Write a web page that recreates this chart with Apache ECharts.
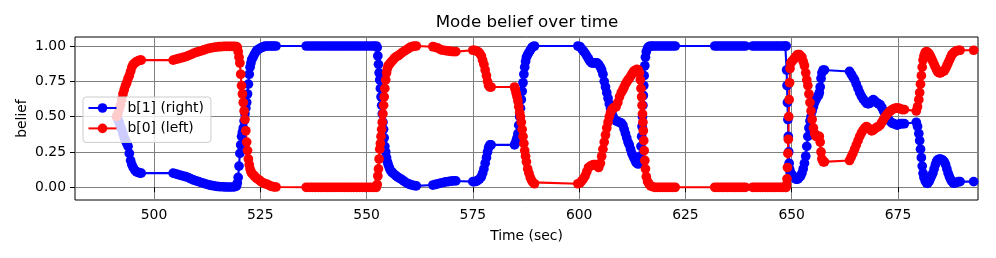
<!DOCTYPE html>
<html><head><meta charset="utf-8">
<script src="https://cdn.jsdelivr.net/npm/echarts@6/dist/echarts.min.js"></script>
<style>html,body{margin:0;padding:0;background:#fff}#c{width:996px;height:258px}</style>
</head><body><div id="c"></div>
<script>
// ---- data ----
const timeSec = [
  491.2, 491.5, 491.8, 492.1, 492.4, 492.7, 493.0, 493.3, 493.6, 493.9, 494.2, 494.5, 494.8, 495.1, 495.5, 495.9, 496.3, 496.7, 497.0,
  504.5, 505.1, 505.7, 506.3, 506.9, 507.5, 508.1, 508.7, 509.3, 509.9, 510.5, 511.1, 511.7, 512.3, 512.9, 513.5, 514.1, 514.7, 515.3, 515.9, 516.5, 517.1, 517.7, 518.3, 518.9, 519.4,
  519.6, 519.8, 520.0, 520.2, 520.4, 520.6, 520.8, 521.0, 521.2, 521.4, 521.6, 521.8, 522.0, 522.2, 522.4, 522.6, 522.8, 523.0, 523.3, 523.6, 523.9, 524.2, 524.6, 525.0, 525.4, 525.8, 526.2, 526.7, 527.2, 527.7, 528.2, 528.7,
  535.8, 536.5, 537.2, 537.9, 538.6, 539.3, 540.0, 540.7, 541.4, 542.1, 542.8, 543.5, 544.2, 544.9, 545.6, 546.3, 547.0, 547.7, 548.4, 549.1, 549.8, 550.5, 551.2, 551.8, 552.3,
  552.5, 552.65, 552.8, 552.95, 553.1, 553.25, 553.4, 553.55, 553.7, 553.85, 554.0, 554.15, 554.3, 554.5, 554.7, 554.9, 555.1, 555.35, 555.6, 555.9, 556.2, 556.6, 557.0, 557.4, 557.8, 558.2, 558.7, 559.2, 559.7, 560.2, 560.7, 561.2, 561.7,
  565.6, 566.2, 566.8, 567.4, 568.0, 568.6, 569.2, 569.8, 570.4, 571.0,
  575.0, 575.4, 575.8, 576.2, 576.6, 577.0, 577.3, 577.6, 577.9, 578.2, 578.45, 578.7, 579.0, 579.3,
  584.8, 585.0, 585.2, 585.4, 585.6, 585.8, 586.0, 586.2, 586.4, 586.6, 586.8, 587.0, 587.2, 587.4, 587.6, 587.9, 588.2, 588.5, 588.8, 589.1, 589.5,
  599.7, 600.2, 600.6, 601.0, 601.4, 601.8, 602.2, 602.6, 603.0, 603.4, 603.8, 604.2, 604.6, 605.0, 605.3, 605.6, 605.9, 606.2, 606.5, 606.8,
  607.1, 607.4, 607.7, 608.0, 608.3, 608.7, 609.1, 609.5, 609.9, 610.3, 610.6, 610.9, 611.2, 611.5, 611.8, 612.1, 612.4, 612.7, 613.0, 613.3,
  613.6, 613.9, 614.2, 614.4, 614.55, 614.7, 614.8, 614.9, 615.0, 615.1, 615.2, 615.3, 615.45, 615.6, 615.8, 616.1, 616.4, 616.8, 617.2,
  617.8, 618.4, 619.0, 619.6, 620.2, 620.8, 621.4, 622.0, 622.6,
  631.9, 632.5, 633.1, 633.7, 634.3, 634.9, 635.5, 636.1, 636.7, 637.3, 637.9, 638.5, 639.1,
  640.8, 641.4, 642.0, 642.6, 643.2, 643.8, 644.4, 645.0, 645.6, 646.2, 646.8, 647.4, 648.0, 648.5,
  648.7, 648.8, 648.9, 649.0, 649.1, 649.2, 649.3, 649.4, 649.5, 649.6, 649.8, 650.0, 650.3, 650.6, 650.9, 651.2, 651.5, 651.8, 652.1, 652.4,
  652.7, 653.0, 653.3, 653.55, 653.8, 654.05, 654.3, 654.55, 654.8, 655.1, 655.4, 655.7, 656.0, 656.3, 656.5, 656.7, 656.9, 657.1, 657.4, 657.7,
  663.6, 664.0, 664.4, 664.8, 665.2, 665.6, 666.0, 666.4, 666.8, 667.2, 667.6, 668.0, 668.4, 668.8, 669.2, 669.6, 670.0, 670.4, 670.8, 671.2,
  671.6, 672.0, 672.4, 672.8, 673.2, 673.6, 674.0, 674.4, 674.8, 675.2, 675.6, 676.0, 676.5, 679.3, 679.6, 679.9, 680.1, 680.3, 680.5, 680.7,
  680.9, 681.1, 681.4, 681.7, 682.0, 682.3, 682.6, 682.9, 683.2, 683.5, 683.8, 684.1, 684.4, 684.7, 685.0, 685.3, 685.6, 685.9, 686.2, 686.5,
  686.8, 687.1, 687.4, 687.7, 688.0, 688.4, 688.8, 689.2, 689.6, 692.8
];
const beliefRight = [
  0.50, 0.48, 0.46, 0.43, 0.41, 0.38, 0.35, 0.33, 0.31, 0.29, 0.24, 0.19, 0.16, 0.14, 0.12, 0.11, 0.105, 0.10, 0.10,
  0.10, 0.095, 0.09, 0.085, 0.08, 0.075, 0.068, 0.06, 0.052, 0.045, 0.04, 0.034, 0.028, 0.022, 0.017, 0.013, 0.01, 0.007, 0.005, 0.004, 0.003, 0.002, 0.002, 0.002, 0.003, 0.008,
  0.03, 0.07, 0.15, 0.24, 0.30, 0.36, 0.39, 0.42, 0.47, 0.52, 0.56, 0.60, 0.66, 0.73, 0.80, 0.85, 0.88, 0.905, 0.92, 0.94, 0.955, 0.97, 0.977, 0.985, 0.99, 0.995, 1.0, 1.0, 1.0, 1.0, 1.0, 1.0,
  1.0, 1.0, 1.0, 1.0, 1.0, 1.0, 1.0, 1.0, 1.0, 1.0, 1.0, 1.0, 1.0, 1.0, 1.0, 1.0, 1.0, 1.0, 1.0, 1.0, 1.0, 1.0, 1.0, 1.0, 1.0,
  0.99, 0.93, 0.87, 0.81, 0.76, 0.70, 0.64, 0.58, 0.52, 0.46, 0.41, 0.35, 0.29, 0.25, 0.21, 0.18, 0.16, 0.14, 0.12, 0.11, 0.10, 0.09, 0.08, 0.07, 0.063, 0.057, 0.045, 0.035, 0.027, 0.02, 0.015, 0.012, 0.01,
  0.016, 0.02, 0.025, 0.03, 0.034, 0.038, 0.04, 0.043, 0.046, 0.045,
  0.04, 0.04, 0.042, 0.05, 0.06, 0.075, 0.10, 0.13, 0.17, 0.21, 0.25, 0.28, 0.30, 0.30,
  0.30, 0.31, 0.33, 0.35, 0.38, 0.44, 0.50, 0.56, 0.62, 0.68, 0.74, 0.80, 0.85, 0.89, 0.92, 0.94, 0.955, 0.97, 0.985, 0.995, 1.0,
  1.0, 0.995, 0.98, 0.965, 0.95, 0.93, 0.91, 0.89, 0.88, 0.88, 0.88, 0.88, 0.87, 0.85, 0.83, 0.80, 0.75, 0.71, 0.67, 0.63,
  0.59, 0.56, 0.53, 0.50, 0.48, 0.47, 0.465, 0.46, 0.455, 0.44, 0.41, 0.38, 0.35, 0.32, 0.30, 0.27, 0.24, 0.22, 0.20, 0.18,
  0.17, 0.165, 0.17, 0.22, 0.29, 0.36, 0.43, 0.50, 0.58, 0.65, 0.72, 0.79, 0.86, 0.92, 0.96, 0.985, 0.995, 1.0, 1.0,
  1.0, 1.0, 1.0, 1.0, 1.0, 1.0, 1.0, 1.0, 1.0,
  1.0, 1.0, 1.0, 1.0, 1.0, 1.0, 1.0, 1.0, 1.0, 1.0, 1.0, 1.0, 1.0,
  1.0, 1.0, 1.0, 1.0, 1.0, 1.0, 1.0, 1.0, 1.0, 1.0, 1.0, 1.0, 1.0, 1.0,
  1.0, 0.83, 0.72, 0.60, 0.48, 0.36, 0.25, 0.17, 0.13, 0.11, 0.10, 0.09, 0.08, 0.07, 0.06, 0.057, 0.06, 0.07, 0.08, 0.10,
  0.13, 0.17, 0.22, 0.29, 0.36, 0.42, 0.47, 0.50, 0.54, 0.57, 0.60, 0.62, 0.64, 0.65, 0.67, 0.71, 0.77, 0.81, 0.83, 0.83,
  0.82, 0.80, 0.78, 0.76, 0.73, 0.70, 0.67, 0.645, 0.625, 0.61, 0.595, 0.59, 0.595, 0.61, 0.62, 0.61, 0.60, 0.59, 0.585, 0.565,
  0.54, 0.52, 0.50, 0.48, 0.465, 0.455, 0.45, 0.445, 0.44, 0.445, 0.45, 0.45, 0.45, 0.46, 0.43, 0.38, 0.33, 0.27, 0.21, 0.15,
  0.10, 0.07, 0.045, 0.03, 0.028, 0.04, 0.06, 0.08, 0.10, 0.13, 0.16, 0.185, 0.195, 0.20, 0.20, 0.195, 0.19, 0.18, 0.16, 0.13,
  0.10, 0.075, 0.055, 0.04, 0.03, 0.03, 0.035, 0.04, 0.04, 0.04
];
const beliefLeft = [
  0.50, 0.52, 0.55, 0.58, 0.62, 0.66, 0.69, 0.72, 0.74, 0.77, 0.79, 0.82, 0.85, 0.87, 0.88, 0.89, 0.895, 0.90, 0.90,
  0.90, 0.905, 0.91, 0.915, 0.92, 0.925, 0.932, 0.94, 0.948, 0.955, 0.96, 0.966, 0.972, 0.978, 0.983, 0.987, 0.99, 0.993, 0.995, 0.996, 0.997, 0.998, 0.998, 0.998, 0.997, 0.995,
  0.99, 0.96, 0.92, 0.88, 0.80, 0.72, 0.66, 0.60, 0.54, 0.48, 0.40, 0.32, 0.26, 0.20, 0.16, 0.13, 0.11, 0.10, 0.09, 0.08, 0.07, 0.062, 0.055, 0.045, 0.035, 0.03, 0.025, 0.02, 0.012, 0.006, 0.003, 0.002,
  0.0, 0.0, 0.0, 0.0, 0.0, 0.0, 0.0, 0.0, 0.0, 0.0, 0.0, 0.0, 0.0, 0.0, 0.0, 0.0, 0.0, 0.0, 0.0, 0.0, 0.0, 0.0, 0.0, 0.0, 0.0,
  0.02, 0.08, 0.13, 0.20, 0.27, 0.31, 0.36, 0.41, 0.46, 0.52, 0.58, 0.64, 0.70, 0.76, 0.81, 0.84, 0.86, 0.87, 0.88, 0.89, 0.90, 0.915, 0.925, 0.93, 0.94, 0.95, 0.96, 0.97, 0.98, 0.99, 0.995, 1.0, 1.0,
  0.995, 0.99, 0.985, 0.975, 0.97, 0.967, 0.965, 0.962, 0.96, 0.96,
  0.97, 0.97, 0.965, 0.96, 0.95, 0.93, 0.90, 0.87, 0.83, 0.79, 0.75, 0.72, 0.71, 0.71,
  0.71, 0.69, 0.665, 0.64, 0.61, 0.57, 0.53, 0.50, 0.46, 0.41, 0.36, 0.31, 0.26, 0.22, 0.18, 0.13, 0.10, 0.07, 0.05, 0.035, 0.025,
  0.025, 0.03, 0.045, 0.06, 0.08, 0.11, 0.14, 0.15, 0.155, 0.16, 0.16, 0.15, 0.14, 0.17, 0.22, 0.27, 0.32, 0.37, 0.42, 0.46,
  0.50, 0.53, 0.55, 0.56, 0.565, 0.57, 0.60, 0.64, 0.67, 0.69, 0.71, 0.73, 0.745, 0.76, 0.77, 0.785, 0.80, 0.815, 0.825, 0.83,
  0.835, 0.83, 0.81, 0.76, 0.70, 0.64, 0.58, 0.52, 0.46, 0.40, 0.33, 0.26, 0.19, 0.13, 0.075, 0.04, 0.025, 0.01, 0.005,
  0.0, 0.0, 0.0, 0.0, 0.0, 0.0, 0.0, 0.0, 0.0,
  0.0, 0.0, 0.0, 0.0, 0.0, 0.0, 0.0, 0.0, 0.0, 0.0, 0.0, 0.0, 0.0,
  0.0, 0.0, 0.0, 0.0, 0.0, 0.0, 0.0, 0.0, 0.0, 0.0, 0.0, 0.0, 0.0, 0.0,
  0.0, 0.02, 0.06, 0.14, 0.24, 0.34, 0.50, 0.62, 0.74, 0.84, 0.88, 0.89, 0.90, 0.91, 0.92, 0.935, 0.94, 0.94, 0.93, 0.92,
  0.89, 0.86, 0.81, 0.76, 0.72, 0.66, 0.60, 0.54, 0.48, 0.42, 0.38, 0.36, 0.36, 0.36, 0.36, 0.32, 0.25, 0.20, 0.18, 0.18,
  0.19, 0.215, 0.24, 0.27, 0.30, 0.33, 0.36, 0.385, 0.405, 0.42, 0.43, 0.42, 0.41, 0.40, 0.405, 0.415, 0.425, 0.43, 0.44, 0.46,
  0.48, 0.50, 0.515, 0.53, 0.54, 0.55, 0.555, 0.56, 0.56, 0.56, 0.555, 0.55, 0.55, 0.54, 0.57, 0.62, 0.67, 0.73, 0.79, 0.85,
  0.90, 0.93, 0.955, 0.96, 0.955, 0.945, 0.93, 0.91, 0.89, 0.87, 0.85, 0.83, 0.815, 0.81, 0.81, 0.815, 0.82, 0.825, 0.84, 0.86,
  0.88, 0.90, 0.92, 0.94, 0.95, 0.96, 0.965, 0.97, 0.97, 0.97
];
const seriesNames = ['b[1] (right)', 'b[0] (left)'];
const xTicks = [500, 525, 550, 575, 600, 625, 650, 675];
const yTicks = [0, 0.25, 0.5, 0.75, 1.0];

if (timeSec.length !== beliefRight.length || timeSec.length !== beliefLeft.length) {
  console.error('length mismatch', timeSec.length, beliefRight.length, beliefLeft.length);
}

// ---- chart ----
const FONT = 'DejaVu Sans';
const pairs = vals => timeSec.map((t, i) => [t, vals[i]]);
const chart = echarts.init(document.getElementById('c'), null, {renderer: 'canvas'});
const lineSeries = (name, color, vals) => ({
  name, type: 'line', data: pairs(vals),
  symbol: 'circle', symbolSize: 9.7, showAllSymbol: true,
  lineStyle: {color, width: 2.1}, itemStyle: {color, borderWidth: 0},
  emphasis: {disabled: true}, clip: true, z: 2
});
chart.setOption({
  animation: false,
  backgroundColor: '#ffffff',
  title: {
    text: 'Mode belief over time', left: 527, top: 14, padding: 0, textAlign: 'center',
    textStyle: {fontFamily: FONT, fontSize: 16.7, fontWeight: 'normal', color: '#000'}
  },
  grid: {left: 75, right: 18, top: 37, bottom: 58, show: true, borderColor: '#000', borderWidth: 1, backgroundColor: 'transparent'},
  legend: {
    orient: 'vertical', left: 83, top: 97,
    padding: [4, 7, 7, 4.5], itemGap: 6.4, itemWidth: 28, itemHeight: 12,
    backgroundColor: 'rgba(255,255,255,0.8)', borderColor: '#cccccc', borderWidth: 1, borderRadius: 3,
    textStyle: {fontFamily: FONT, fontSize: 13.9, color: '#000', padding: [0, 0, 0, 6]},
    data: seriesNames, selectedMode: false
  },
  xAxis: {
    type: 'value', min: 481.42, max: 693.82,
    name: 'Time (sec)', nameLocation: 'middle', nameGap: 29.5, nameMoveOverlap: false,
    nameTextStyle: {fontFamily: FONT, fontSize: 13.9, color: '#000'},
    axisLine: {show: false},
    axisTick: {show: true, inside: false, length: 5, customValues: xTicks, lineStyle: {color: '#000', width: 1}},
    axisLabel: {customValues: xTicks, margin: 8, fontFamily: FONT, fontSize: 13.9, color: '#000'},
    splitLine: {show: true, lineStyle: {color: '#808080', width: 1}}
  },
  yAxis: {
    type: 'value', min: -0.0899, max: 1.0637,
    name: 'belief', nameLocation: 'middle', nameGap: 46, nameMoveOverlap: false,
    nameTextStyle: {fontFamily: FONT, fontSize: 13.9, color: '#000'},
    axisLine: {show: false},
    axisTick: {show: true, inside: false, length: 5, customValues: yTicks, lineStyle: {color: '#000', width: 1}},
    axisLabel: {customValues: yTicks, margin: 9, fontFamily: FONT, fontSize: 13.9, color: '#000', formatter: v => v.toFixed(2)},
    splitLine: {show: true, lineStyle: {color: '#808080', width: 1}}
  },
  series: [
    lineSeries(seriesNames[0], '#0000ff', beliefRight),
    lineSeries(seriesNames[1], '#ff0000', beliefLeft)
  ]
});
</script></body></html>
